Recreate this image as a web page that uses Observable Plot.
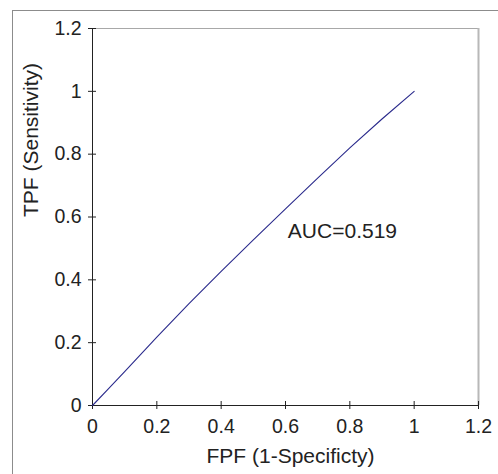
<!DOCTYPE html>
<html>
<head>
<meta charset="utf-8">
<script src="https://cdn.jsdelivr.net/npm/d3@7"></script>
<script src="https://cdn.jsdelivr.net/npm/@observablehq/plot@0.6"></script>
<style>
  html, body { margin: 0; padding: 0; background: #fff; }
  #wrap { position: relative; width: 498px; height: 474px; overflow: hidden; }
  #frame { position: absolute; left: 12px; top: 10px; width: 520px; height: 500px; border: 1px solid #8c8c8c; box-sizing: border-box; }
  #chart { position: absolute; left: 0; top: 0; }
</style>
</head>
<body>
<div id="wrap"><div id="frame"></div><div id="chart"></div></div>
<script>
const fpf = [0, 0.05, 0.1, 0.2, 0.3, 0.4, 0.5, 0.6, 0.7, 0.8, 0.9, 1.0];
const tpf = [0, 0.054, 0.108, 0.218, 0.324, 0.427, 0.527, 0.626, 0.724, 0.82, 0.912, 1.0];
const xTicks = [0, 0.2, 0.4, 0.6, 0.8, 1.0, 1.2];
const yTicks = [0, 0.2, 0.4, 0.6, 0.8, 1.0, 1.2];
const xLabel = "FPF (1-Specificty)";
const yLabel = "TPF (Sensitivity)";
const aucText = ["AUC=0.519"];
const aucX = [0.777];
const aucY = [0.532];

const curve = fpf.map((x, i) => ({x, y: tpf[i]}));
const fmt = d3.format("~g");

const chart = Plot.plot({
  width: 498,
  height: 474,
  marginLeft: 92,
  marginRight: 20,
  marginTop: 28,
  marginBottom: 69,
  style: {fontFamily: "'Liberation Sans', Arial, sans-serif", fontSize: "19.5px", background: "transparent"},
  x: {domain: [0, 1.2]},
  y: {domain: [0, 1.2]},
  marks: [
    Plot.ruleY([1.2], {stroke: "#a8a8a8", strokeWidth: 1}),
    Plot.ruleX([1.2], {stroke: "#b8b8b8", strokeWidth: 2}),
    Plot.ruleX([0], {stroke: "#222"}),
    Plot.ruleY([0], {stroke: "#222"}),
    Plot.axisX({ticks: xTicks, tickSize: 8, dy: -4, tickPadding: 10, tickFormat: fmt, label: null, color: "#222", fontSize: 19.5}),
    Plot.axisY({ticks: yTicks, tickSize: 8, dx: 4, tickPadding: 7, tickFormat: fmt, label: null, color: "#222", fontSize: 19.5}),
    Plot.line(curve, {x: "x", y: "y", stroke: "#2a2a8c", strokeWidth: 1.1}),
    Plot.text(aucText, {x: aucX, y: aucY, text: d => d, textAnchor: "middle", lineAnchor: "bottom", fontSize: 21, fill: "#222"}),
    Plot.text([xLabel], {frameAnchor: "bottom", text: d => d, lineAnchor: "bottom", dx: 5, dy: 57, fontSize: 21, fill: "#222"}),
    Plot.text([yLabel], {frameAnchor: "left", text: d => d, rotate: -90, lineAnchor: "bottom", dx: -55, fontSize: 21, fill: "#222"})
  ]
});
document.getElementById("chart").appendChild(chart);
</script>
</body>
</html>
